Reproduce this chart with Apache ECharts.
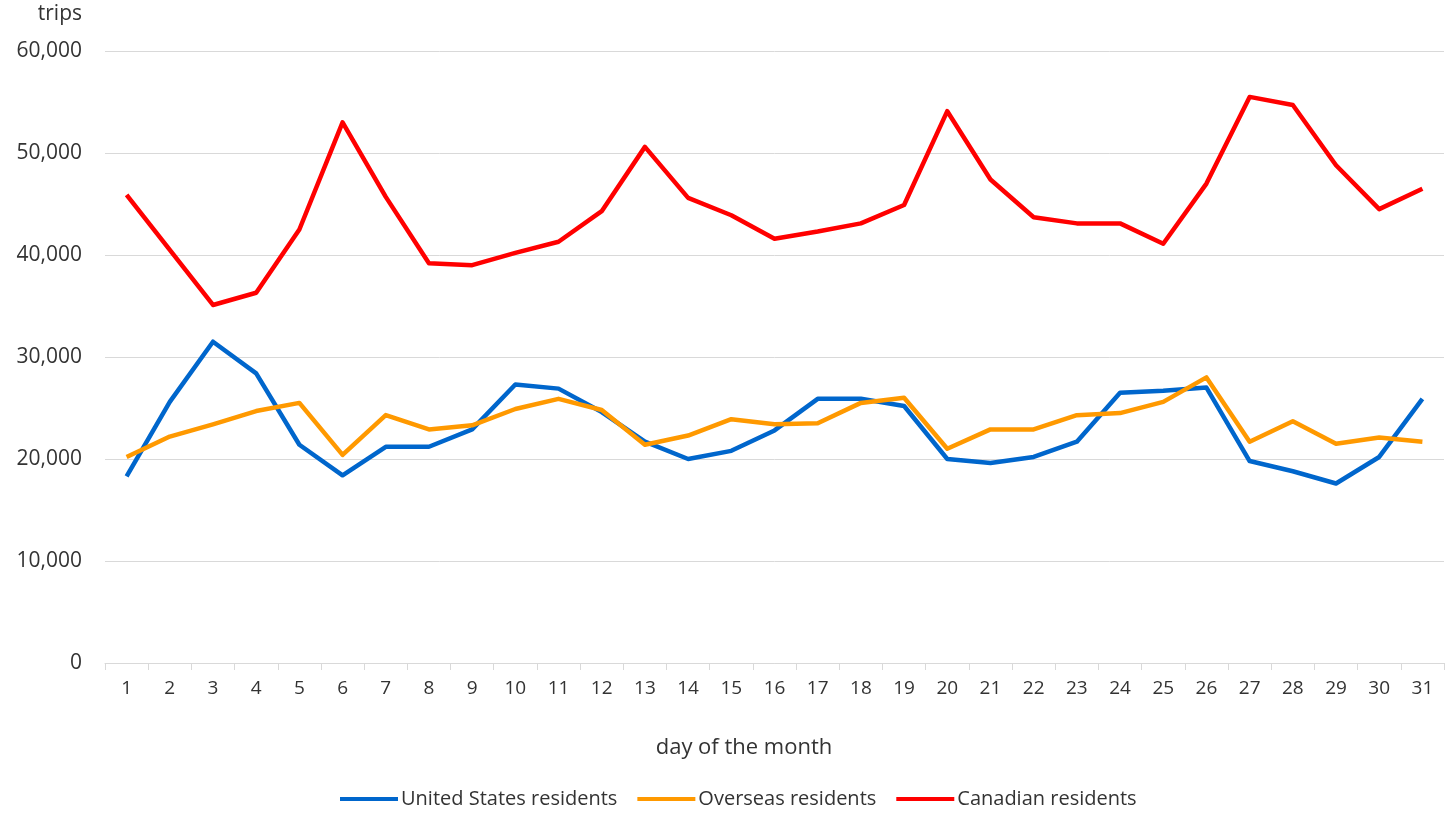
<!DOCTYPE html>
<html>
<head>
<meta charset="utf-8">
<script src="https://cdn.jsdelivr.net/npm/echarts@6/dist/echarts.min.js"></script>
<style>
  html, body { margin: 0; padding: 0; background: #fff; }
  #chart { width: 1449px; height: 813px; }
</style>
</head>
<body>
<div id="chart"></div>
<script>
  // day of the month
  var days = [];
  for (var d = 1; d <= 31; d++) days.push(String(d));

  var usResidents = [18300, 25600, 31500, 28400, 21400, 18400, 21200, 21200, 22900, 27300, 26900,
    24600, 21700, 20000, 20800, 22800, 25900, 25900, 25200, 20000, 19600,
    20200, 21700, 26500, 26700, 27000, 19800, 18800, 17600, 20200, 25900];

  var overseasResidents = [20200, 22200, 23400, 24700, 25500, 20400, 24300, 22900, 23300, 24900, 25900,
    24800, 21400, 22300, 23900, 23400, 23500, 25500, 26000, 21000, 22900,
    22900, 24300, 24500, 25600, 28000, 21700, 23700, 21500, 22100, 21700];

  var canadianResidents = [45900, 40500, 35100, 36300, 42500, 53000, 45700, 39200, 39000, 40200, 41300,
    44300, 50600, 45600, 43900, 41600, 42300, 43100, 44900, 54100, 47400,
    43700, 43100, 43100, 41100, 47000, 55500, 54700, 48800, 44500, 46500];

  var yTicks = { min: 0, max: 60000, step: 10000 };

  var font = 'Open Sans';
  var textColor = '#333333';

  var option = {
    animation: false,
    color: ['#0066cc', '#ff9900', '#ff0000'],
    grid: {
      left: 105,
      right: 5,
      top: 51,
      bottom: 150,
      containLabel: false
    },
    legend: {
      data: ['United States residents', 'Overseas residents', 'Canadian residents'],
      top: 789,
      left: 340,
      padding: 0,
      icon: 'rect',
      itemWidth: 58,
      itemHeight: 4,
      itemGap: 20,
      textStyle: {
        color: textColor,
        fontFamily: font,
        fontSize: 20,
        padding: [0, 0, 0, -2]
      }
    },
    xAxis: {
      type: 'category',
      data: days,
      boundaryGap: true,
      axisLine: { lineStyle: { color: '#d9d9d9', width: 1 } },
      axisTick: { show: true, length: 7, lineStyle: { color: '#d9d9d9' } },
      axisLabel: {
        interval: 0,
        color: textColor,
        fontFamily: font,
        fontSize: 19,
        margin: 16
      },
      splitLine: { show: false }
    },
    yAxis: {
      type: 'value',
      min: yTicks.min,
      max: yTicks.max,
      interval: yTicks.step,
      name: 'trips',
      nameLocation: 'end',
      nameGap: 26,
      nameTextStyle: {
        color: textColor,
        fontFamily: font,
        fontSize: 21,
        align: 'right',
        padding: [0, 23, 0, 0]
      },
      axisLine: { show: false },
      axisTick: { show: false },
      axisLabel: {
        color: textColor,
        fontFamily: font,
        fontSize: 21,
        margin: 23,
        formatter: function (v) {
          return v.toLocaleString('en-US');
        }
      },
      splitLine: { lineStyle: { color: '#d9d9d9', width: 1 } }
    },
    graphic: [{
      type: 'text',
      x: 744,
      y: 748,
      style: {
        text: 'day of the month',
        fill: textColor,
        font: '22px "Open Sans"',
        align: 'center',
        verticalAlign: 'middle'
      }
    }],
    series: [{
      name: 'United States residents',
      type: 'line',
      data: usResidents,
      symbol: 'none',
      lineStyle: { width: 4.5, join: 'round' }
    }, {
      name: 'Overseas residents',
      type: 'line',
      data: overseasResidents,
      symbol: 'none',
      lineStyle: { width: 4.5, join: 'round' }
    }, {
      name: 'Canadian residents',
      type: 'line',
      data: canadianResidents,
      symbol: 'none',
      lineStyle: { width: 4.5, join: 'round' }
    }]
  };

  var myChart = echarts.init(document.getElementById('chart'));
  myChart.setOption(option, true);
</script>
</body>
</html>
